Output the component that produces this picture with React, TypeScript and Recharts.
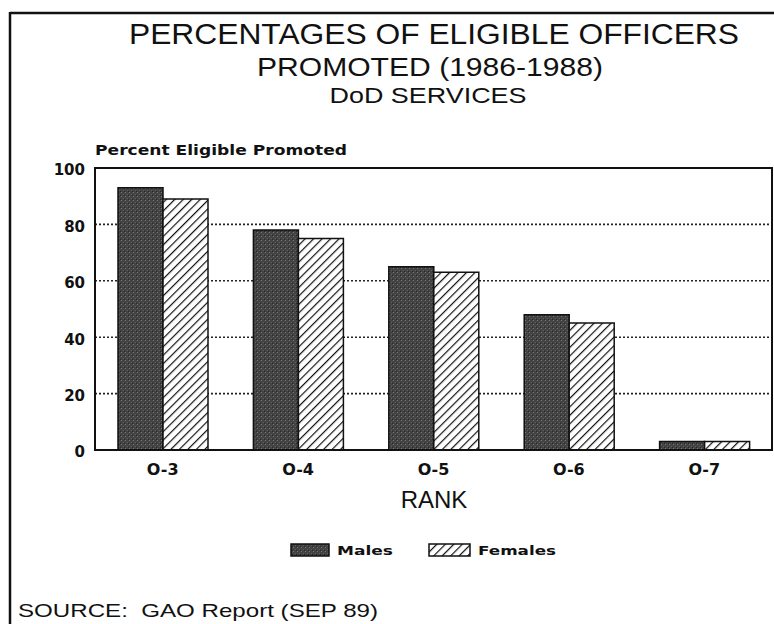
import { BarChart, Bar, XAxis, YAxis, CartesianGrid, Legend, ReferenceArea } from "recharts";

const ranks = ["O-3", "O-4", "O-5", "O-6", "O-7"];
const males = [93, 78, 65, 48, 3];
const females = [89, 75, 63, 45, 3];
const yTicks = [0, 20, 40, 60, 80, 100];

const data = ranks.map((rank, i) => ({ rank, males: males[i], females: females[i] }));

const boldFont = "'DejaVu Sans', Verdana, sans-serif";
const titleFont = "'Liberation Sans Narrow', 'Liberation Sans', Arial, sans-serif";

const LegendBox = () => (
  <svg width={774} height={24}>
    <rect x={291} y={5} width={38} height={12} fill="url(#stipple)" stroke="#111" strokeWidth={1.5} />
    <text x={337} y={16} fontFamily={boldFont} fontWeight="bold" fontSize={13} fill="#111" textLength={56} lengthAdjust="spacingAndGlyphs">
      Males
    </text>
    <rect x={429} y={5} width={41} height={12} fill="url(#hatch)" stroke="#111" strokeWidth={1.5} />
    <text x={478} y={16} fontFamily={boldFont} fontWeight="bold" fontSize={13} fill="#111" textLength={78} lengthAdjust="spacingAndGlyphs">
      Females
    </text>
  </svg>
);

export default function App() {
  return (
    <div style={{ position: "absolute", left: 0, top: 0, width: 774, height: 624, background: "#fff" }}>
      <BarChart
        width={774}
        height={624}
        data={data}
        margin={{ top: 168, right: 2, bottom: 144, left: 45 }}
        barSize={45}
        barGap={0}
      >
        <defs>
          <pattern id="stipple" width={4} height={4} patternUnits="userSpaceOnUse">
            <rect width={4} height={4} fill="#434343" />
            <rect x={1} y={0} width={1} height={1} fill="#777" />
            <rect x={3} y={2} width={1} height={1} fill="#5e5e5e" />
            <rect x={0} y={3} width={1} height={1} fill="#262626" />
          </pattern>
          <pattern id="hatch" width={6} height={6} patternUnits="userSpaceOnUse" patternTransform="rotate(45)">
            <rect width={6} height={6} fill="#fff" />
            <line x1={0} y1={0} x2={0} y2={6} stroke="#111" strokeWidth={2.4} />
          </pattern>
        </defs>
        <CartesianGrid vertical={false} stroke="#222" strokeDasharray="2 2" strokeWidth={1.6} />
        <ReferenceArea y1={0} y2={100} fill="none" stroke="#111" strokeWidth={2} ifOverflow="visible" />
        <XAxis
          dataKey="rank"
          height={30}
          tickSize={0}
          tickMargin={14}
          axisLine={{ stroke: "#111", strokeWidth: 2 }}
          tick={{ fontFamily: boldFont, fontWeight: "bold", fontSize: 16, fill: "#111" }}
          label={{
            content: () => (
              <text x={434} y={508} textAnchor="middle" fontFamily="'Liberation Sans', Arial, sans-serif" fontSize={24} fill="#111">
                RANK
              </text>
            ),
          }}
        />
        <YAxis
          width={50}
          domain={[0, 100]}
          ticks={yTicks}
          tickSize={0}
          tickMargin={10}
          axisLine={{ stroke: "#111", strokeWidth: 2 }}
          tick={{ fontFamily: boldFont, fontWeight: "bold", fontSize: 15, fill: "#111", dy: 2 }}
          label={{
            content: () => (
              <text x={95} y={155} fontFamily={boldFont} fontWeight="bold" fontSize={14} fill="#111" textLength={252} lengthAdjust="spacingAndGlyphs">
                Percent Eligible Promoted
              </text>
            ),
          }}
        />
        <Legend verticalAlign="middle" wrapperStyle={{ top: 539, left: 0, width: 774 }} content={() => <LegendBox />} />
        <Bar dataKey="males" name="Males" fill="url(#stipple)" stroke="#111" strokeWidth={1.5} isAnimationActive={false} />
        <Bar dataKey="females" name="Females" fill="url(#hatch)" stroke="#111" strokeWidth={1.5} isAnimationActive={false} />
      </BarChart>
      <svg width={774} height={624} style={{ position: "absolute", left: 0, top: 0, pointerEvents: "none" }}>
        <line x1={10} y1={13} x2={774} y2={13} stroke="#111" strokeWidth={2.5} />
        <line x1={10} y1={12} x2={10} y2={624} stroke="#111" strokeWidth={2.5} />
        <text x={434} y={44} textAnchor="middle" fontFamily={titleFont} fontSize={30} fill="#111" textLength={610} lengthAdjust="spacingAndGlyphs">
          PERCENTAGES OF ELIGIBLE OFFICERS
        </text>
        <text x={430} y={76} textAnchor="middle" fontFamily={titleFont} fontSize={25} fill="#111" textLength={346} lengthAdjust="spacingAndGlyphs">
          PROMOTED (1986-1988)
        </text>
        <text x={428} y={103} textAnchor="middle" fontFamily={titleFont} fontSize={22} fill="#111" textLength={197} lengthAdjust="spacingAndGlyphs">
          DoD SERVICES
        </text>
        <text x={18} y={617} fontFamily="'Liberation Sans', Arial, sans-serif" fontSize={19} fill="#111" textLength={360} lengthAdjust="spacingAndGlyphs">
          {"SOURCE:\u00a0 GAO Report (SEP 89)"}
        </text>
      </svg>
    </div>
  );
}
